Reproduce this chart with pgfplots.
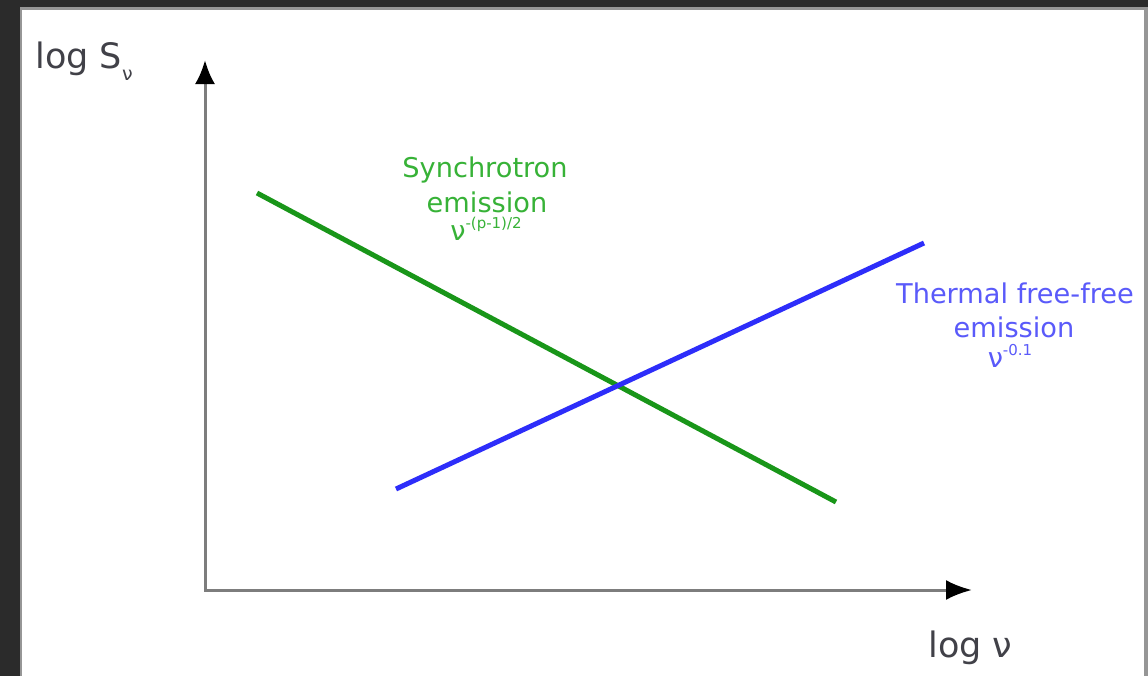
\documentclass[border=0pt]{standalone}
\usepackage{fontspec}
\setmainfont{DejaVu Sans}
\usepackage{pgfplots}
\pgfplotsset{compat=1.18}
\usetikzlibrary{arrows.meta}
\definecolor{framedark}{RGB}{43,43,43}
\definecolor{frameedge}{RGB}{150,150,150}
\definecolor{axisgray}{RGB}{125,125,125}
\definecolor{labelgray}{RGB}{65,65,72}
\definecolor{synchline}{RGB}{25,150,25}
\definecolor{synchtext}{RGB}{55,178,55}
\definecolor{thermline}{RGB}{45,45,250}
\definecolor{thermtext}{RGB}{90,90,250}
\newcommand{\expo}[1]{\raisebox{6pt}{\fontsize{7.5}{8}\selectfont #1}}
\begin{document}
\begin{tikzpicture}
\begin{axis}[
  scale only axis,
  width=574pt, height=338pt,
  xmin=0, xmax=1148, ymin=0, ymax=676,
  y dir=reverse,
  hide axis,
  clip=false,
]
% page frame
\fill[framedark] (axis cs:0,0) rectangle (axis cs:1148,676);
\fill[frameedge] (axis cs:20,7) rectangle (axis cs:1148,676);
\fill[white] (axis cs:22,10) rectangle (axis cs:1144,676);

% axes with arrowheads
\addplot[axisgray, line width=1.5pt, line cap=rect,
  -{Latex[length=12pt,width=10pt,color=black]}]
  coordinates {(205,590) (205,60)};
\addplot[axisgray, line width=1.5pt, line cap=rect,
  -{Latex[length=13pt,width=10pt,color=black]}]
  coordinates {(205,590) (972,590)};

% spectra
\addplot[synchline, line width=2.5pt] coordinates {(257,193) (836,502)};
\addplot[thermline, line width=2.5pt] coordinates {(396,489) (924,243)};

% axis labels
\node[anchor=base west, inner sep=0pt, text=labelgray, font=\fontsize{17.5}{20}\selectfont]
  at (axis cs:35,68) {log S\raisebox{-6pt}{\fontsize{9.5}{9.5}\selectfont ν}};
\node[anchor=base west, inner sep=0pt, text=labelgray, font=\fontsize{17.5}{20}\selectfont]
  at (axis cs:928,657) {log ν};

% synchrotron label
\node[anchor=base, text=synchtext, font=\fontsize{13.6}{16}\selectfont]
  at (axis cs:485,177) {Synchrotron};
\node[anchor=base, text=synchtext, font=\fontsize{13.6}{16}\selectfont]
  at (axis cs:487,212) {emission};
\node[anchor=base, text=synchtext, font=\fontsize{13.6}{16}\selectfont]
  at (axis cs:486,240) {ν\expo{-(p-1)/2}};

% thermal label
\node[anchor=base, text=thermtext, font=\fontsize{13.6}{16}\selectfont]
  at (axis cs:1015,303) {Thermal free-free};
\node[anchor=base, text=thermtext, font=\fontsize{13.6}{16}\selectfont]
  at (axis cs:1014,337) {emission};
\node[anchor=base, text=thermtext, font=\fontsize{13.6}{16}\selectfont]
  at (axis cs:1010,367) {ν\expo{-0.1}};
\end{axis}
\end{tikzpicture}
\end{document}
